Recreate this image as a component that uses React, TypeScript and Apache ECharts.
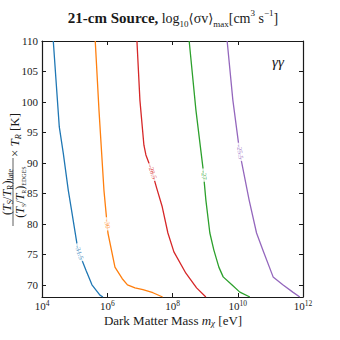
import React, { useEffect, useRef } from 'react';
import * as echarts from 'echarts';

// x: log10(m_chi / eV), y: temperature ratio x T_R [K]
const xTickExponents = [4, 6, 8, 10, 12];
const yTickValues = [70, 75, 80, 85, 90, 95, 100, 105, 110];

const contourLevels = ['-31.5', '-30', '-28.5', '-27', '-25.5'];

const logMassL1 = [4.346, 4.429, 4.53, 4.652, 4.806, 4.919, 5.103, 5.348, 5.531, 5.776, 5.868];
const tempL1 = [110, 103.6, 95.9, 91.6, 85.5, 81.8, 75.7, 72.4, 70.0, 68.3, 68];

const logMassL2 = [5.632, 5.746, 5.899, 6.021, 6.236, 6.46, 6.62, 6.85, 7.093, 7.4, 7.697];
const tempL2 = [110, 98.7, 85.5, 78.5, 72.9, 71.0, 70.0, 69.5, 69.2, 68.7, 68];

const logMassL3 = [6.91, 7.001, 7.124, 7.185, 7.36, 7.513, 7.685, 7.859, 8.043, 8.41, 8.738, 9.023];
const tempL3 = [110, 100.3, 92.9, 91.3, 88.8, 85.9, 82.8, 78.5, 75.4, 71.9, 69.5, 68];

const logMassL4 = [8.511, 8.717, 8.931, 9.023, 9.145, 9.268, 9.421, 9.553, 9.819, 10.064, 10.371];
const tempL4 = [110, 98.7, 89.3, 83.9, 78.5, 75.7, 72.9, 71.3, 70.0, 68.8, 68];

const logMassL5 = [9.675, 9.85, 10.064, 10.349, 10.576, 10.769, 11.084, 11.381, 11.687, 11.902];
const tempL5 = [110, 100.3, 91.6, 83.9, 78.5, 75.7, 71.3, 70.0, 68.8, 68];

const labelTemps = [75.3, 80, 88.5, 88, 91.8];

const curveMasses = [logMassL1, logMassL2, logMassL3, logMassL4, logMassL5];
const curveTemps = [tempL1, tempL2, tempL3, tempL4, tempL5];

const colors = ['#1f77b4', '#ff7f0e', '#d62728', '#2ca02c', '#9467bd'];
const SERIF = "'Liberation Serif', 'DejaVu Serif', serif";
const INK = '#1a1a1a';

function interp(xs: number[], ts: number[], t: number): number {
  for (let i = 0; i < ts.length - 1; i++) {
    const a = ts[i], b = ts[i + 1];
    if ((t <= a && t >= b) || (t >= a && t <= b)) {
      const f = a === b ? 0 : (t - a) / (b - a);
      return xs[i] + f * (xs[i + 1] - xs[i]);
    }
  }
  return xs[xs.length - 1];
}

const fracRich = (subSize: number) => ({
  p: { fontSize: 12, fontFamily: SERIF, fill: INK, lineHeight: 14 },
  i: { fontSize: 12, fontFamily: SERIF, fontStyle: 'italic', fill: INK, lineHeight: 14 },
  s: { fontSize: subSize, fontFamily: SERIF, fill: INK, lineHeight: subSize, verticalAlign: 'bottom' },
});

function buildOption(rotations: number[]) {
  const lineSeries = curveMasses.map((xs, i) => ({
    type: 'line',
    name: contourLevels[i],
    data: xs.map((x, j) => [x, curveTemps[i][j]]),
    showSymbol: false,
    symbol: 'none',
    lineStyle: { color: colors[i], width: 1.3 },
    z: 2,
  }));
  const labelSeries = {
    type: 'scatter',
    symbolSize: 0,
    z: 10,
    data: contourLevels.map((lv, i) => ({
      value: [interp(curveMasses[i], curveTemps[i], labelTemps[i]), labelTemps[i]],
      label: {
        show: true,
        position: 'inside',
        formatter: lv,
        rotate: rotations[i],
        color: colors[i],
        fontSize: 7,
        fontFamily: SERIF,
        backgroundColor: '#ffffff',
        padding: [0, 2],
      },
    })),
  };

  const axisCommonX = {
    type: 'value',
    min: 4,
    max: 12,
    interval: 2,
    splitLine: { show: false },
    axisLine: { show: true, onZero: false, lineStyle: { color: INK, width: 1.2 } },
    axisTick: { show: true, inside: true, length: 4, lineStyle: { color: INK, width: 1 } },
  };
  const axisCommonY = {
    type: 'value',
    min: 68,
    max: 110,
    splitLine: { show: false },
    axisLine: { show: true, onZero: false, lineStyle: { color: INK, width: 1.2 } },
    axisTick: {
      show: true,
      inside: true,
      length: 4,
      customValues: yTickValues,
      lineStyle: { color: INK, width: 1 },
    },
  };

  return {
    animation: false,
    backgroundColor: '#ffffff',
    grid: { left: 42, right: 37, top: 41, bottom: 43, containLabel: false },
    xAxis: [
      {
        ...axisCommonX,
        position: 'bottom',
        axisLabel: {
          show: true,
          margin: 2,
          customValues: xTickExponents,
          formatter: (v: number) => `{b|10}{e|${v}}`,
          rich: {
            b: { fontSize: 11, fontFamily: SERIF, color: INK, lineHeight: 13 },
            e: { fontSize: 7.5, fontFamily: SERIF, color: INK, lineHeight: 6, verticalAlign: 'top' },
          },
        },
      },
      { ...axisCommonX, position: 'top', axisLabel: { show: false } },
    ],
    yAxis: [
      {
        ...axisCommonY,
        position: 'left',
        axisLabel: {
          show: true,
          margin: 4,
          customValues: yTickValues,
          fontSize: 11,
          fontFamily: SERIF,
          color: INK,
        },
      },
      { ...axisCommonY, position: 'right', axisLabel: { show: false } },
    ],
    graphic: [
      {
        type: 'text',
        x: 173,
        y: 18,
        style: {
          text: '{b|21-cm Source,} {n|log}{sub|10}{a|⟨}{n|σv}{a|⟩}{sub|max}{n|[cm}{sup|3}{n| s}{sup|−1}{n|]}',
          align: 'center',
          verticalAlign: 'middle',
          rich: {
            b: { fontSize: 15, fontWeight: 'bold', fontFamily: SERIF, fill: INK, lineHeight: 20 },
            n: { fontSize: 14, fontFamily: SERIF, fill: INK, lineHeight: 20 },
            a: { fontSize: 13, fontFamily: "'DejaVu Serif', 'DejaVu Sans', serif", fill: INK, lineHeight: 20 },
            sub: { fontSize: 9, fontFamily: SERIF, fill: INK, lineHeight: 10, verticalAlign: 'bottom' },
            sup: { fontSize: 9, fontFamily: SERIF, fill: INK, lineHeight: 10, verticalAlign: 'top' },
          },
        },
      },
      {
        type: 'text',
        x: 173,
        y: 320,
        style: {
          text: '{n|Dark Matter Mass }{i|m}{s|χ}{n| [eV]}',
          align: 'center',
          verticalAlign: 'middle',
          rich: {
            n: { fontSize: 13, fontFamily: SERIF, fill: INK, lineHeight: 15 },
            i: { fontSize: 13, fontFamily: SERIF, fontStyle: 'italic', fill: INK, lineHeight: 15 },
            s: { fontSize: 9, fontFamily: SERIF, fontStyle: 'italic', fill: INK, lineHeight: 8, verticalAlign: 'bottom' },
          },
        },
      },
      {
        type: 'text',
        x: 278,
        y: 62,
        style: {
          text: 'γγ',
          align: 'center',
          verticalAlign: 'middle',
          fontSize: 15,
          fontStyle: 'italic',
          fontFamily: SERIF,
          fill: INK,
        },
      },
      // y-axis title: fraction x T_R [K], rotated to read bottom-to-top
      {
        type: 'text',
        x: 7,
        y: 192,
        rotation: Math.PI / 2,
        style: {
          text: '{p|(}{i|T}{s|S}{p|/}{i|T}{s|R}{p|)}{s|late}',
          align: 'center',
          verticalAlign: 'middle',
          rich: fracRich(8),
        },
      },
      {
        type: 'line',
        shape: { x1: 13, y1: 158, x2: 13, y2: 226 },
        style: { stroke: INK, lineWidth: 0.7 },
      },
      {
        type: 'text',
        x: 19.5,
        y: 192,
        rotation: Math.PI / 2,
        style: {
          text: '{p|(}{i|T}{s|S}{p|/}{i|T}{s|R}{p|)}{s|EDGES}',
          align: 'center',
          verticalAlign: 'middle',
          rich: fracRich(6),
        },
      },
      {
        type: 'text',
        x: 14,
        y: 135,
        rotation: Math.PI / 2,
        style: {
          text: '{n|× }{i|T}{s|R}{n| [K]}',
          align: 'center',
          verticalAlign: 'middle',
          rich: {
            n: { fontSize: 13, fontFamily: SERIF, fill: INK, lineHeight: 16 },
            i: { fontSize: 13, fontFamily: SERIF, fontStyle: 'italic', fill: INK, lineHeight: 16 },
            s: { fontSize: 8, fontFamily: SERIF, fontStyle: 'italic', fill: INK, lineHeight: 8, verticalAlign: 'bottom' },
          },
        },
      },
    ],
    series: [...lineSeries, labelSeries],
  };
}

export default function App() {
  const ref = useRef<HTMLDivElement>(null);
  useEffect(() => {
    if (!ref.current) return;
    document.body.style.margin = '0';
    const chart = echarts.init(ref.current, null, { renderer: 'svg' });
    chart.setOption(buildOption(contourLevels.map(() => -80)) as any);
    const rotations = contourLevels.map((_, i) => {
      const t0 = labelTemps[i];
      const a = chart.convertToPixel({ gridIndex: 0 } as any, [
        interp(curveMasses[i], curveTemps[i], t0 + 1.5),
        t0 + 1.5,
      ]) as number[];
      const b = chart.convertToPixel({ gridIndex: 0 } as any, [
        interp(curveMasses[i], curveTemps[i], t0 - 1.5),
        t0 - 1.5,
      ]) as number[];
      if (!a || !b) return -80;
      return (Math.atan2(-(b[1] - a[1]), b[0] - a[0]) * 180) / Math.PI;
    });
    chart.setOption(buildOption(rotations) as any, true);
    return () => chart.dispose();
  }, []);
  return (
    <div
      ref={ref}
      style={{ position: 'fixed', left: 0, top: 0, width: 340, height: 340 }}
    />
  );
}
